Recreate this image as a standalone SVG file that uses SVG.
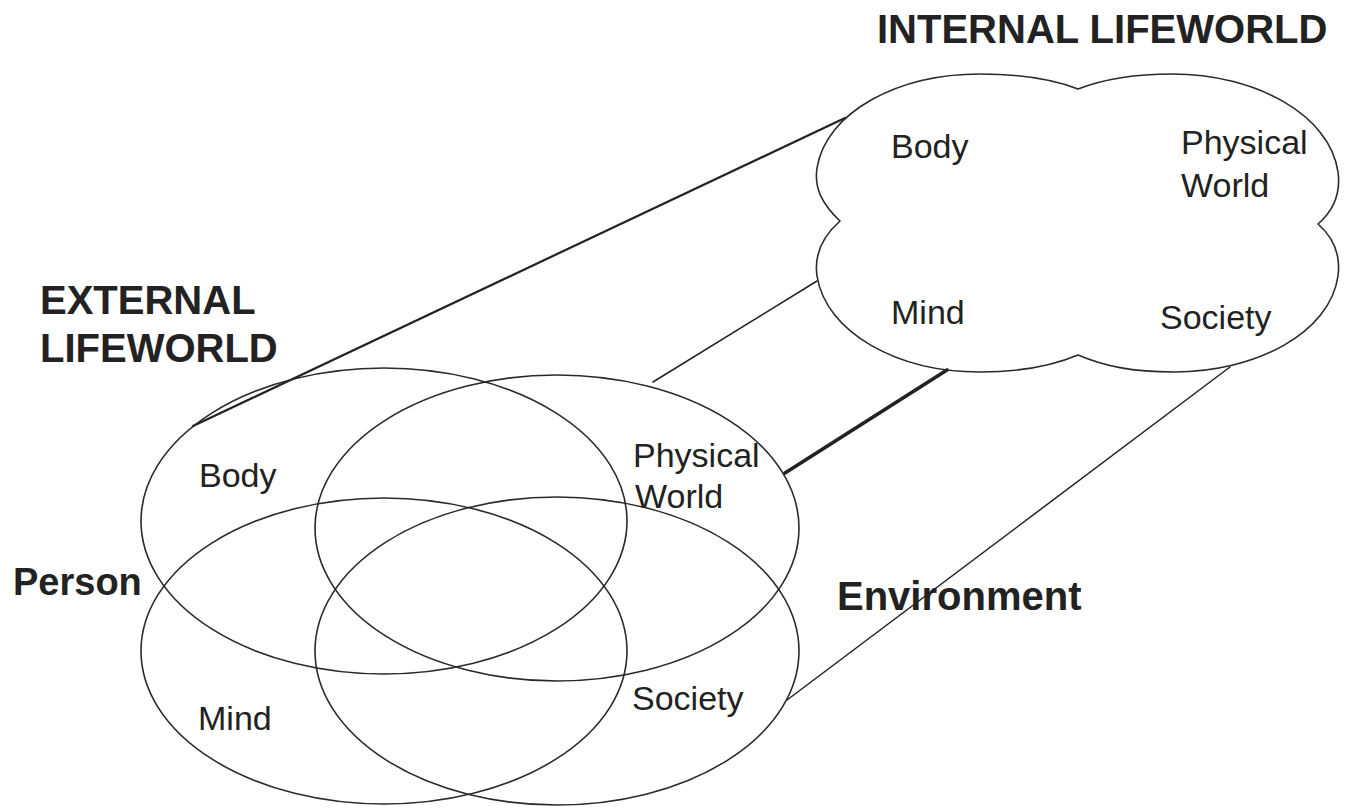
<svg xmlns="http://www.w3.org/2000/svg" width="1347" height="808" viewBox="0 0 1347 808">
<style>
.shape{fill:none;stroke:#2a2a2a;stroke-width:1.6}
.conn{fill:none;stroke:#222;stroke-linecap:round}
.lbl{font-family:"Liberation Sans",Arial,sans-serif;font-size:34px;fill:#222}
.ttl{font-family:"Liberation Sans",Arial,sans-serif;font-size:40px;font-weight:bold;fill:#222}
</style>
<rect width="1347" height="808" fill="#fff"/>
<g id="connectors">
<line class="conn" x1="193" y1="426" x2="845" y2="118" stroke-width="2.2"/>
<line class="conn" x1="653" y1="382" x2="817" y2="281" stroke-width="1.5"/>
<line class="conn" x1="785" y1="473" x2="947" y2="370" stroke-width="3.6"/>
<line class="conn" x1="787" y1="700" x2="1230" y2="367" stroke-width="1.5"/>
</g>
<g id="internal-lifeworld">
<path class="shape" d="M 840 221 C 822 204 814 188 817 168 C 826 112 898 74 980 74 C 1020 74 1052 79 1078 89 C 1104 79 1132 74 1172 74 C 1256 74 1330 115 1338 172 C 1341 194 1334 210 1318 224 C 1334 238 1341 254 1338 276 C 1330 333 1256 372 1174 372 C 1132 372 1104 366 1078 355 C 1052 366 1022 372 980 372 C 898 372 826 333 817 276 C 814 255 822 237 840 221 Z"/>
<text class="ttl" x="877" y="43">INTERNAL LIFEWORLD</text>
</g>
<g id="int-body"><text class="lbl" x="891" y="158">Body</text></g>
<g id="int-physical"><text class="lbl" x="1181" y="154">Physical</text><text class="lbl" x="1181" y="197">World</text></g>
<g id="int-mind"><text class="lbl" x="891" y="324">Mind</text></g>
<g id="int-society"><text class="lbl" x="1160" y="329">Society</text></g>
<g id="external-lifeworld">
<text class="ttl" x="40" y="314">EXTERNAL</text>
<text class="ttl" x="40" y="362">LIFEWORLD</text>
</g>
<g id="ext-body">
<ellipse class="shape" cx="384" cy="521" rx="243" ry="153"/>
<text class="lbl" x="199" y="487">Body</text>
</g>
<g id="ext-physical">
<ellipse class="shape" cx="557" cy="528" rx="242" ry="153"/>
<text class="lbl" x="633" y="467">Physical</text>
<text class="lbl" x="635" y="508">World</text>
</g>
<g id="ext-mind">
<ellipse class="shape" cx="384" cy="651" rx="243" ry="153"/>
<text class="lbl" x="198" y="730">Mind</text>
</g>
<g id="ext-society">
<ellipse class="shape" cx="557" cy="651" rx="242" ry="154"/>
<text class="lbl" x="632" y="710">Society</text>
</g>
<g id="person"><text class="ttl" x="13" y="595" style="font-size:38px">Person</text></g>
<g id="environment"><text class="ttl" x="837" y="610">Environment</text></g>
</svg>
